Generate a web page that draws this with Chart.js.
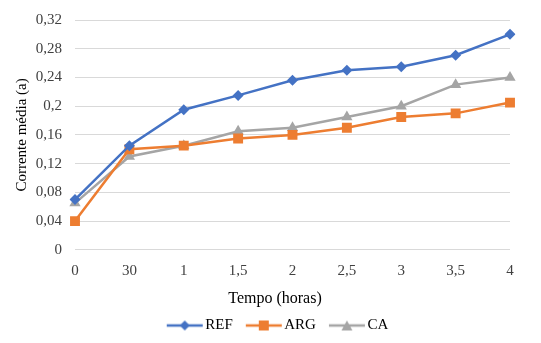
<!DOCTYPE html>
<html>
<head>
<meta charset="utf-8">
<script src="https://cdn.jsdelivr.net/npm/chart.js@4"></script>
<style>
  html, body { margin: 0; padding: 0; background: #fff; }
  #wrap { width: 541px; height: 343px; }
</style>
</head>
<body>
<div id="wrap"><canvas id="chart" width="541" height="343"></canvas></div>
<script>
// tempo (horas) e corrente média por amostra
const tempos = ['0', '30', '1', '1,5', '2', '2,5', '3', '3,5', '4'];
const ref = [0.07, 0.145, 0.195, 0.215, 0.236, 0.25, 0.255, 0.271, 0.30];
const arg = [0.04, 0.14, 0.145, 0.155, 0.16, 0.17, 0.185, 0.19, 0.205];
const ca = [0.065, 0.13, 0.145, 0.165, 0.17, 0.185, 0.2, 0.23, 0.24];

const AZUL = '#4472C4';
const LARANJA = '#ED7D31';
const CINZA = '#A5A5A5';
const FONTE = "'Liberation Serif', 'Times New Roman', serif";

// icone da legenda: linha com o marcador no meio
// (a imagem é mais larga que a caixa; o desenho fica à direita para encostar no texto)
function iconeLegenda(cor, estilo) {
  const c = document.createElement('canvas');
  c.width = 50; c.height = 12;
  const g = c.getContext('2d');
  const x0 = 12, x1 = 48, m = (x0 + x1) / 2;
  g.strokeStyle = cor; g.fillStyle = cor; g.lineWidth = 2.5;
  g.beginPath(); g.moveTo(x0, 6); g.lineTo(x1, 6); g.stroke();
  g.beginPath();
  if (estilo === 'rectRot') {
    g.moveTo(m, 1); g.lineTo(m + 5, 6); g.lineTo(m, 11); g.lineTo(m - 5, 6);
  } else if (estilo === 'rect') {
    g.rect(m - 5, 1, 10, 10);
  } else {
    g.moveTo(m, 1); g.lineTo(m + 5.5, 11); g.lineTo(m - 5.5, 11);
  }
  g.closePath(); g.fill();
  return c;
}

function serie(nome, dados, cor, estilo, raio) {
  return {
    label: nome,
    data: dados,
    borderColor: cor,
    backgroundColor: cor,
    borderWidth: 2.5,
    pointStyle: estilo,
    pointRadius: raio,
    pointHoverRadius: raio,
    pointBorderWidth: 0,
    tension: 0
  };
}

const series = [
  serie('REF', ref, AZUL, 'rectRot', 5.5),
  serie('ARG', arg, LARANJA, 'rect', 7),
  serie('CA', ca, CINZA, 'triangle', 6.5)
];

// título do eixo x e legenda ficam um pouco à direita do centro
const deslocaRodape = {
  id: 'deslocaRodape',
  afterLayout(chart) {
    for (const box of [chart.legend, chart.titleBlock]) {
      if (box) { box.left += 16; box.right += 16; }
    }
  }
};

new Chart(document.getElementById('chart').getContext('2d'), {
  type: 'line',
  data: { labels: tempos, datasets: series },
  plugins: [deslocaRodape],
  options: {
    responsive: false,
    animation: false,
    layout: { padding: { top: 20, right: 31, left: 8, bottom: 0 } },
    plugins: {
      title: {
        display: true,
        position: 'bottom',
        weight: 500,
        text: 'Tempo (horas)',
        font: { family: FONTE, size: 16, weight: 'normal' },
        color: '#000',
        padding: { top: 9, bottom: 2 }
      },
      legend: {
        position: 'bottom',
        labels: {
          font: { family: FONTE, size: 15 },
          color: '#000',
          usePointStyle: true,
          pointStyleWidth: 36,
          boxHeight: 12,
          padding: 8,
          generateLabels(chart) {
            return chart.data.datasets.map((ds, i) => ({
              text: ds.label,
              pointStyle: iconeLegenda(ds.borderColor, ds.pointStyle),
              fillStyle: ds.borderColor,
              strokeStyle: ds.borderColor,
              lineWidth: 0,
              datasetIndex: i
            }));
          }
        }
      },
      tooltip: { enabled: false }
    },
    scales: {
      x: {
        offset: false,
        grid: { display: false, drawTicks: false },
        border: { display: false },
        ticks: { font: { family: FONTE, size: 15 }, color: '#404040', padding: 12, maxRotation: 0 },
        afterFit(s) { s.height = 30; }
      },
      y: {
        min: 0,
        max: 0.32,
        grid: { color: '#D9D9D9', lineWidth: 1, drawTicks: false },
        border: { display: false },
        ticks: {
          stepSize: 0.04,
          font: { family: FONTE, size: 15 },
          color: '#404040',
          padding: 13,
          callback: v => String(Math.round(v * 100) / 100).replace('.', ',')
        },
        title: {
          display: true,
          text: 'Corrente média (a)',
          font: { family: FONTE, size: 15 },
          color: '#000',
          padding: { top: 5, bottom: 5 }
        },
        afterFit(s) { s.width = 67; s.paddingTop = 0; }
      }
    }
  }
});
</script>
</body>
</html>
